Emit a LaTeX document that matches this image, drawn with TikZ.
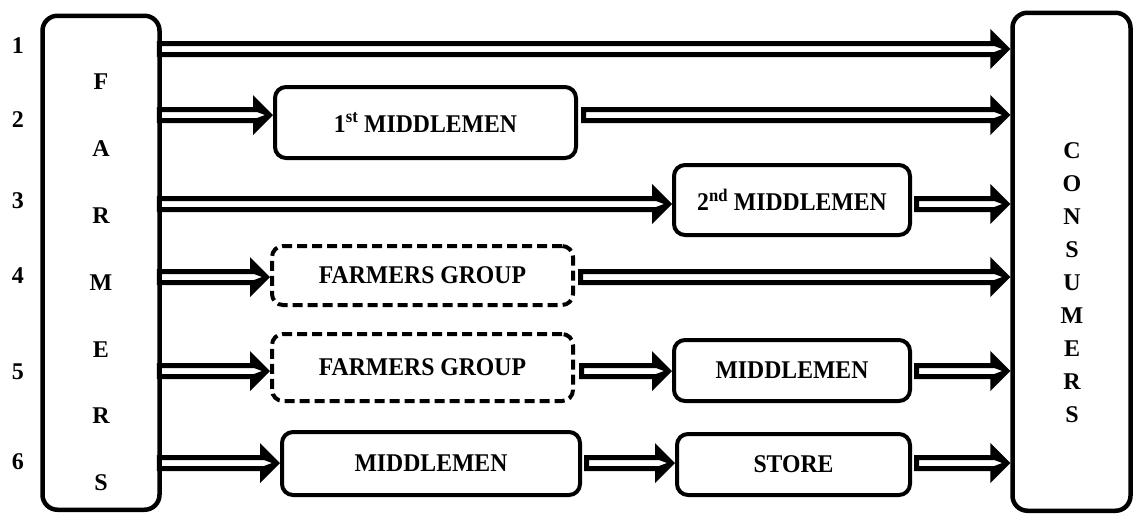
\documentclass[tikz,border=0pt]{standalone}
\usepackage{fontspec}
\setmainfont{Liberation Serif}
\newfontfamily\stagefont[FakeStretch=0.93]{Liberation Serif}
\usetikzlibrary{calc}

\begin{document}
\begin{tikzpicture}[x=1pt,y=-1pt,
  frame/.style={draw, line width=4.5pt, rounded corners=15pt, inner sep=0pt},
  stage/.style={draw, line width=4pt, rounded corners=11pt, inner sep=0pt,
    font=\stagefont\fontsize{25.5}{28}\selectfont\bfseries},
  groupbox/.style={stage, dash pattern=on 10pt off 5pt},
  rowno/.style={font=\fontsize{24}{26}\selectfont\bfseries},
  letter/.style={font=\fontsize{24}{26}\selectfont\bfseries},
  % hollow block arrow: black outline with a white channel, drawn as an even-odd fill
  flow/.style={to path={let \p1=(\tikztostart), \p2=(\tikztotarget) in
     (\x1,\y1+8pt) -- (\x2-20pt,\y1+8pt) -- (\x2-20pt,\y1+20pt) -- (\x2,\y1)
     -- (\x2-20pt,\y1-20pt) -- (\x2-20pt,\y1-8pt) -- (\x1,\y1-8pt) -- cycle
     (\x1+5pt,\y1+3pt) -- (\x2-16pt,\y1+3pt) -- (\x2-8pt,\y1)
     -- (\x2-16pt,\y1-3pt) -- (\x1+5pt,\y1-3pt) -- cycle}},
  arrowfill/.style={fill=black, even odd rule}
]
\useasboundingbox (0,0) rectangle (1133,515);

% side columns
\node[frame, minimum width=117pt, minimum height=494pt] (farmers) at (101,262.75) {};
\node[frame, minimum width=118pt, minimum height=498pt] (consumers) at (1071.5,261.75) {};

\foreach \t [count=\i] in {F,A,R,M,E,R,S}
  \node[letter] (f\i) at (101,{82+(\i-1)*66.8}) {\t};
\foreach \t [count=\i] in {C,O,N,S,U,M,E,R,S}
  \node[letter] (c\i) at (1072,{151+(\i-1)*33}) {\t};

% row numbers and row levels
\foreach \yy [count=\i] in {46,120,201,276,372,462}
  \node[rowno] (n\i) at (18,\yy) {\i};
\foreach \yy [count=\i] in {49,115,204,277,371,463}
  \coordinate (r\i) at (0,\yy);

% intermediate stages
\node[stage, minimum width=301pt, minimum height=71pt] (m1) at (425.5,122.5) {1\textsuperscript{st} MIDDLEMEN};
\node[stage, minimum width=236pt, minimum height=70pt] (m2) at (792,200) {2\textsuperscript{nd} MIDDLEMEN};
\node[groupbox, minimum width=301pt, minimum height=59pt] (g4) at (422.5,275.5) {FARMERS GROUP};
\node[groupbox, minimum width=301pt, minimum height=67pt] (g5) at (422.5,367.5) {FARMERS GROUP};
\node[stage, minimum width=236pt, minimum height=61pt] (m5) at (792,370.5) {MIDDLEMEN};
\node[stage, minimum width=298pt, minimum height=63pt] (m6) at (431,463.5) {MIDDLEMEN};
\node[stage, minimum width=233pt, minimum height=61pt] (s6) at (793.5,464.5) {STORE};

% channel 1
\fill[arrowfill] ([xshift=-5pt]farmers.east |- r1) to[flow] (consumers.west |- r1);
% channel 2
\fill[arrowfill] ([xshift=-5pt]farmers.east |- r2) to[flow] (m1.west |- r2);
\fill[arrowfill] ([xshift=3pt]m1.east |- r2) to[flow] (consumers.west |- r2);
% channel 3
\fill[arrowfill] ([xshift=-5pt]farmers.east |- r3) to[flow] (m2.west |- r3);
\fill[arrowfill] ([xshift=2pt]m2.east |- r3) to[flow] (consumers.west |- r3);
% channel 4
\fill[arrowfill] ([xshift=-5pt]farmers.east |- r4) to[flow] (g4.west |- r4);
\fill[arrowfill] ([xshift=3pt]g4.east |- r4) to[flow] (consumers.west |- r4);
% channel 5
\fill[arrowfill] ([xshift=-5pt]farmers.east |- r5) to[flow] (g5.west |- r5);
\fill[arrowfill] ([xshift=4pt]g5.east |- r5) to[flow] (m5.west |- r5);
\fill[arrowfill] ([xshift=2pt]m5.east |- r5) to[flow] (consumers.west |- r5);
% channel 6
\fill[arrowfill] ([xshift=-5pt]farmers.east |- r6) to[flow] (m6.west |- r6);
\fill[arrowfill] ([xshift=2pt]m6.east |- r6) to[flow] (s6.west |- r6);
\fill[arrowfill] ([xshift=2pt]s6.east |- r6) to[flow] (consumers.west |- r6);
\end{tikzpicture}
\end{document}
